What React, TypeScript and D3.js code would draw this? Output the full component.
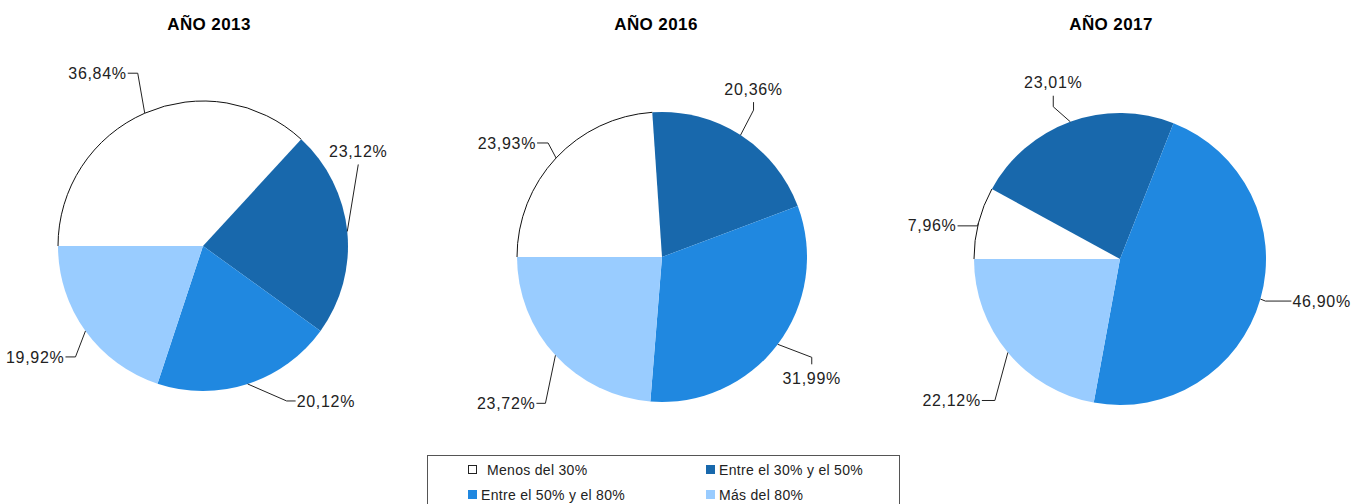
import * as d3 from "d3";

const categories = ["Menos del 30%", "Entre el 30% y el 50%", "Entre el 50% y el 80%", "Más del 80%"];
const colors = ["#ffffff", "#1868ac", "#2088e0", "#99ccff"];
const titles = ["AÑO 2013", "AÑO 2016", "AÑO 2017"];
const values2013 = [36.84, 23.12, 20.12, 19.92];
const values2016 = [23.93, 20.36, 31.99, 23.72];
const values2017 = [7.96, 23.01, 46.9, 22.12];

// pie placement (layout only)
const pies = [
  { values: values2013, cx: 203, cy: 246, r: 145, tx: 209 },
  { values: values2016, cx: 662, cy: 257, r: 145, tx: 656 },
  { values: values2017, cx: 1120, cy: 259, r: 146, tx: 1111 },
];

// leader line shape for each label: elbow offset from arc point, then tail direction/length
type Leader = { dx: number; dy: number; dir: "l" | "r" | "u" | "d"; len: number };
const leaders: Leader[][] = [
  [
    { dx: -7, dy: -40, dir: "l", len: 10 },
    { dx: 11, dy: -67, dir: "u", len: 0 },
    { dx: 39, dy: 17, dir: "r", len: 9 },
    { dx: -10, dy: 26, dir: "l", len: 10 },
  ],
  [
    { dx: -8, dy: -15, dir: "l", len: 11 },
    { dx: 13, dy: -25, dir: "u", len: 8 },
    { dx: 34, dy: 13, dir: "d", len: 7 },
    { dx: -10, dy: 48, dir: "l", len: 9 },
  ],
  [
    { dx: -1, dy: 3, dir: "l", len: 20 },
    { dx: -17, dy: -15, dir: "u", len: 11 },
    { dx: 5, dy: 2, dir: "r", len: 26 },
    { dx: -13, dy: 48, dir: "l", len: 13 },
  ],
];

const fmt = (v: number) => v.toFixed(2).replace(".", ",") + "%";
const FONT = "'Liberation Sans', Arial, sans-serif";

const pieGen = d3
  .pie<number>()
  .sort(null)
  .startAngle(1.5 * Math.PI)
  .endAngle(3.5 * Math.PI);

function PieChart({ idx }: { idx: number }) {
  const p = pies[idx];
  const arcs = pieGen(p.values);
  const arcGen = d3.arc<d3.PieArcDatum<number>>().innerRadius(0).outerRadius(p.r);

  return (
    <g>
      <text x={p.tx} y={30} textAnchor="middle" fontFamily={FONT} fontWeight="bold" fontSize={17} letterSpacing={0.4} fill="#000">
        {titles[idx]}
      </text>
      <g transform={`translate(${p.cx},${p.cy})`}>
        {arcs.map((a, i) => (
          <path key={i} d={arcGen(a) || ""} fill={colors[i]} />
        ))}
        {arcs.map((a, i) => {
          if (i !== 0) return null;
          const path = d3.path();
          path.arc(0, 0, p.r, a.startAngle - Math.PI / 2, a.endAngle - Math.PI / 2);
          return <path key={"o" + i} d={path.toString()} fill="none" stroke="#111" strokeWidth={1} />;
        })}
        {arcs.map((a, i) => {
          const mid = (a.startAngle + a.endAngle) / 2;
          const ax = p.r * Math.sin(mid);
          const ay = -p.r * Math.cos(mid);
          const L = leaders[idx][i];
          const ex = ax + L.dx;
          const ey = ay + L.dy;
          let tx = ex, ty = ey;
          if (L.dir === "l") tx = ex - L.len;
          if (L.dir === "r") tx = ex + L.len;
          if (L.dir === "u") ty = ey - L.len;
          if (L.dir === "d") ty = ey + L.len;
          let lx = tx, ly = ty, anchor: "start" | "middle" | "end" = "middle";
          if (L.dir === "l") { lx = tx - 1; anchor = "end"; }
          if (L.dir === "r") { lx = tx + 1; anchor = "start"; }
          if (L.dir === "u") ly = ty - 13;
          if (L.dir === "d") ly = ty + 14;
          return (
            <g key={"l" + i}>
              <polyline points={`${ax},${ay} ${ex},${ey} ${tx},${ty}`} fill="none" stroke="#222" strokeWidth={1} />
              <text x={lx} y={ly} dy="0.35em" textAnchor={anchor} fontFamily={FONT} fontSize={16} letterSpacing={0.7} fill="#222">
                {fmt(p.values[i])}
              </text>
            </g>
          );
        })}
      </g>
    </g>
  );
}

function Legend() {
  const x0 = 427, y0 = 455;
  const cols = [468, 706];
  const rows = [470, 495];
  return (
    <g>
      <rect x={x0 + 0.5} y={y0 + 0.5} width={472} height={70} fill="#fff" stroke="#555" strokeWidth={1} />
      {categories.map((c, i) => {
        const x = cols[i % 2];
        const y = rows[Math.floor(i / 2)];
        return (
          <g key={i}>
            <rect
              x={x + 0.5}
              y={y - 4.5}
              width={8}
              height={8}
              fill={colors[i]}
              stroke={i === 0 ? "#222" : colors[i]}
              strokeWidth={1}
            />
            <text x={x + (i === 0 ? 19 : 13)} y={y} dy="0.35em" fontFamily={FONT} fontSize={14} letterSpacing={0.3} fill="#222">
              {c}
            </text>
          </g>
        );
      })}
    </g>
  );
}

export default function App() {
  return (
    <svg
      width={1366}
      height={504}
      style={{ position: "absolute", left: 0, top: 0, background: "#fff" }}
    >
      {pies.map((_, i) => (
        <PieChart key={i} idx={i} />
      ))}
      <Legend />
    </svg>
  );
}
